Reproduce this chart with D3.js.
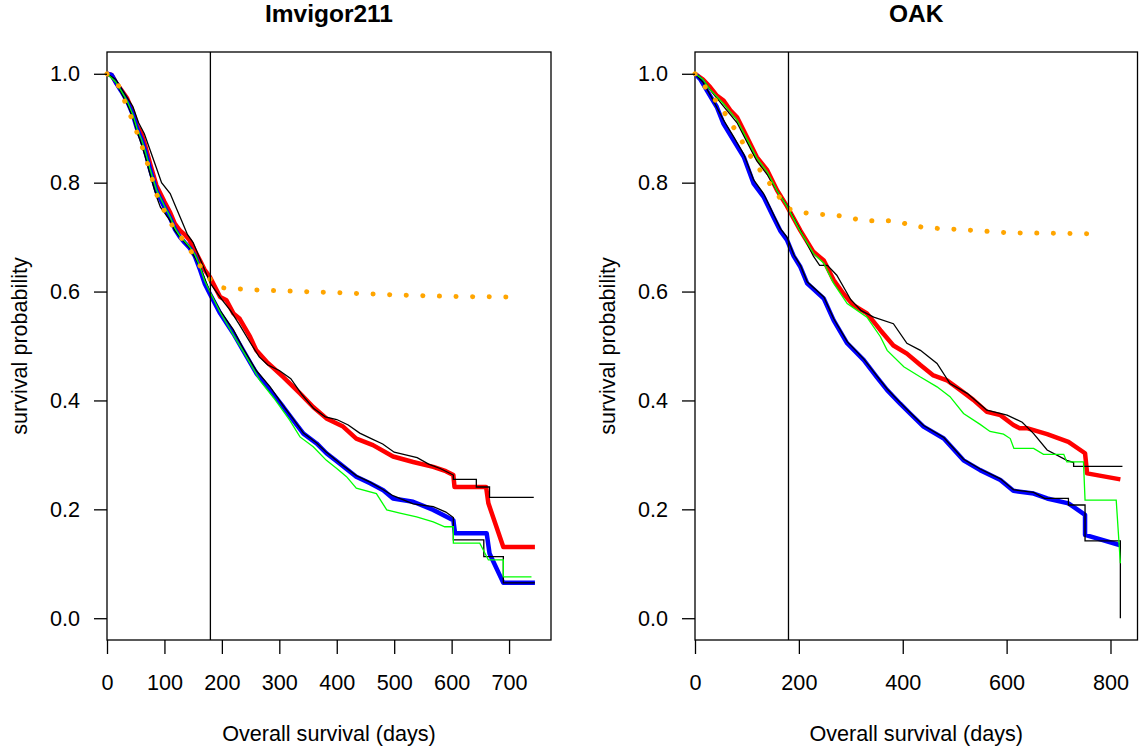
<!DOCTYPE html>
<html>
<head>
<meta charset="utf-8">
<script src="https://cdn.jsdelivr.net/npm/d3@7"></script>
<style>
  body { margin: 0; background: #fff; }
  svg text { font-family: "Liberation Sans", Arial, Helvetica, sans-serif; fill: #000; }
</style>
</head>
<body>
<div id="chart-area"></div>
<script>
// ---- data: [day, survival probability] ----

// Imvigor211
var imRed = [[0,1],[8,0.998],[15,0.985],[25,0.97],[35,0.955],[45,0.93],[52,0.905],[60,0.89],[66,0.87],[75,0.835],[86,0.795],[100,0.765],[110,0.745],[118,0.725],[127,0.712],[135,0.705],[144,0.694],[153,0.675],[162,0.657],[170,0.64],[179,0.627],[197,0.59],[208,0.584],[220,0.56],[231,0.55],[249,0.517],[260,0.492],[278,0.471],[307,0.443],[336,0.413],[359,0.388],[382,0.367],[411,0.352],[434,0.33],[463,0.318],[498,0.297],[533,0.287],[568,0.278],[590,0.27],[603,0.263],[605,0.241],[660,0.241],[664,0.211],[690,0.131],[745,0.131]];
var imBlue = [[0,1],[8,0.998],[15,0.985],[25,0.968],[35,0.95],[45,0.925],[52,0.9],[60,0.88],[66,0.86],[75,0.825],[86,0.785],[100,0.755],[110,0.735],[118,0.715],[127,0.7],[135,0.69],[144,0.68],[153,0.665],[162,0.64],[170,0.615],[179,0.596],[197,0.56],[220,0.523],[237,0.492],[260,0.45],[284,0.419],[307,0.388],[324,0.364],[342,0.339],[365,0.321],[382,0.303],[405,0.284],[434,0.26],[458,0.248],[481,0.235],[498,0.22],[533,0.214],[568,0.199],[603,0.18],[606,0.156],[661,0.156],[666,0.119],[690,0.065],[745,0.065]];
var imGreen = [[0,1],[15,0.985],[25,0.968],[35,0.95],[45,0.925],[52,0.9],[60,0.88],[66,0.86],[75,0.825],[86,0.787],[100,0.757],[110,0.737],[118,0.717],[127,0.702],[144,0.682],[153,0.668],[162,0.645],[170,0.62],[179,0.6],[197,0.562],[220,0.52],[240,0.485],[266,0.437],[290,0.405],[318,0.364],[336,0.333],[359,0.315],[382,0.29],[400,0.275],[417,0.26],[434,0.239],[469,0.229],[487,0.199],[510,0.193],[539,0.186],[568,0.177],[588,0.168],[603,0.168],[603,0.138],[649,0.138],[664,0.107],[690,0.107],[690,0.076],[739,0.076]];
var imKmHigh = [[0,1],[15,0.99],[30,0.965],[45,0.94],[55,0.91],[65,0.89],[75,0.86],[85,0.83],[95,0.8],[110,0.78],[120,0.755],[130,0.73],[140,0.705],[150,0.69],[160,0.665],[170,0.64],[180,0.615],[190,0.6],[200,0.585],[215,0.565],[230,0.54],[250,0.505],[265,0.48],[280,0.465],[300,0.455],[320,0.44],[340,0.41],[360,0.385],[380,0.37],[400,0.365],[420,0.355],[440,0.34],[460,0.33],[480,0.32],[500,0.305],[520,0.3],[540,0.295],[560,0.283],[580,0.275],[603,0.263],[603,0.255],[643,0.255],[643,0.241],[666,0.241],[666,0.222],[743,0.222]];
var imKmLow = [[0,1],[15,0.985],[25,0.965],[35,0.945],[45,0.92],[52,0.895],[60,0.87],[66,0.85],[75,0.815],[86,0.775],[93,0.755],[100,0.745],[110,0.73],[118,0.712],[127,0.7],[144,0.68],[162,0.645],[179,0.6],[197,0.565],[220,0.53],[240,0.49],[260,0.455],[284,0.425],[307,0.39],[324,0.366],[342,0.34],[365,0.322],[382,0.305],[405,0.285],[434,0.262],[458,0.25],[481,0.236],[498,0.225],[533,0.21],[568,0.205],[590,0.195],[603,0.185],[603,0.144],[656,0.144],[656,0.113],[690,0.113],[690,0.065],[745,0.065]];
var imOrange = [[0,1],[20,0.978],[46,0.91],[60,0.87],[75,0.82],[89,0.77],[104,0.74],[117,0.715],[140,0.685],[160,0.65],[180,0.622],[200,0.607],[257,0.603],[314,0.601],[400,0.598],[500,0.594],[600,0.591],[715,0.59]];

// OAK
var oakRed = [[0,1],[15,0.99],[29.5,0.975],[42,0.96],[55,0.951],[68,0.933],[81,0.92],[100,0.884],[119,0.847],[139,0.823],[158,0.786],[177,0.757],[203,0.712],[228,0.673],[248,0.657],[267,0.621],[286,0.596],[305,0.575],[331,0.56],[357,0.529],[382,0.501],[408,0.486],[434,0.465],[459,0.446],[485,0.437],[511,0.419],[536,0.401],[562,0.379],[588,0.373],[613,0.355],[625,0.349],[639,0.349],[678,0.338],[719,0.324],[751,0.303],[755,0.266],[819,0.255]];
var oakBlue = [[0,1],[10,0.99],[23,0.969],[42,0.939],[55,0.908],[74,0.878],[94,0.847],[113,0.798],[132,0.774],[151,0.737],[164,0.712],[177,0.695],[190,0.665],[203,0.645],[216,0.615],[248,0.587],[267,0.547],[293,0.505],[325,0.474],[350,0.443],[370,0.419],[395,0.394],[414,0.376],[440,0.352],[479,0.33],[517,0.29],[549,0.272],[588,0.254],[613,0.234],[652,0.229],[678,0.22],[719,0.211],[751,0.19],[751,0.153],[819,0.134]];
var oakGreen = [[0,1],[15,0.99],[30,0.97],[55,0.945],[68,0.93],[81,0.915],[100,0.88],[119,0.845],[139,0.82],[158,0.785],[177,0.757],[203,0.71],[228,0.67],[248,0.652],[267,0.615],[293,0.578],[331,0.553],[357,0.517],[370,0.492],[402,0.462],[434,0.443],[466,0.425],[491,0.407],[517,0.376],[549,0.356],[568,0.343],[594,0.338],[607,0.33],[614,0.312],[652,0.312],[671,0.301],[710,0.301],[716,0.287],[748,0.287],[751,0.217],[811,0.217],[819,0.101]];
var oakKmHigh = [[0,1],[15,0.99],[30,0.97],[55,0.94],[68,0.925],[81,0.91],[100,0.875],[119,0.84],[139,0.815],[158,0.785],[177,0.758],[203,0.712],[228,0.665],[240,0.648],[255,0.648],[273,0.63],[300,0.585],[320,0.565],[344,0.553],[382,0.541],[408,0.505],[434,0.492],[466,0.468],[491,0.431],[524,0.413],[562,0.382],[601,0.373],[630,0.36],[652,0.339],[678,0.309],[716,0.29],[729,0.286],[729,0.279],[823,0.279]];
var oakKmLow = [[0,1],[15,0.985],[30,0.96],[55,0.915],[74,0.885],[94,0.852],[113,0.805],[132,0.78],[151,0.742],[164,0.716],[177,0.7],[190,0.668],[203,0.648],[216,0.618],[248,0.59],[267,0.55],[293,0.508],[325,0.476],[350,0.445],[370,0.421],[395,0.396],[414,0.378],[440,0.354],[479,0.332],[517,0.292],[549,0.274],[588,0.256],[613,0.236],[652,0.231],[673,0.22],[719,0.22],[719,0.208],[751,0.208],[751,0.142],[819,0.142],[819,0]];
var oakOrange = [[0,1],[20,0.975],[52,0.936],[82,0.89],[111,0.842],[142,0.801],[174,0.758],[180,0.752],[203,0.746],[231,0.742],[264,0.741],[293,0.737],[323,0.73],[387,0.73],[414,0.722],[446,0.717],[511,0.714],[543,0.712],[604,0.708],[771,0.706]];

var yTicks = [0, 0.2, 0.4, 0.6, 0.8, 1.0];
var imXTicks = [0, 100, 200, 300, 400, 500, 600, 700];
var oakXTicks = [0, 200, 400, 600, 800];
var landmark = 180;

var svg = d3.select("#chart-area")
    .append("svg")
    .attr("width", 1139)
    .attr("height", 749);

var plotTop = 52, plotBottom = 640;

var y = d3.scaleLinear()
    .domain([-0.04, 1.04])
    .range([plotBottom, plotTop]);

function drawPanel(p) {
    var x = d3.scaleLinear()
        .domain([0, p.xmax])
        .range([p.left, p.right]);

    var g = svg.append("g");

    var line = d3.line()
        .x(function(d) { return x(d[0]); })
        .y(function(d) { return y(d[1]); });

    // box
    g.append("rect")
        .attr("x", p.left).attr("y", plotTop)
        .attr("width", p.right - p.left).attr("height", plotBottom - plotTop)
        .attr("fill", "none").attr("stroke", "#000").attr("stroke-width", 1.3);

    // curves
    g.append("path").attr("d", line(p.red))
        .attr("fill", "none").attr("stroke", "#ff0000").attr("stroke-width", 4.5)
        .attr("stroke-linejoin", "round");
    g.append("path").attr("d", line(p.blue))
        .attr("fill", "none").attr("stroke", "#0000ff").attr("stroke-width", 4.5)
        .attr("stroke-linejoin", "round");
    [p.kmHigh, p.kmLow].forEach(function(s) {
        g.append("path").attr("d", line(s))
            .attr("fill", "none").attr("stroke", "#000").attr("stroke-width", 1.3);
    });
    g.append("path").attr("d", line(p.green))
        .attr("fill", "none").attr("stroke", "#00ff00").attr("stroke-width", 1.3);
    g.append("path").attr("d", line(p.orange))
        .attr("fill", "none").attr("stroke", "#ffa500").attr("stroke-width", 5)
        .attr("stroke-linecap", "round").attr("stroke-dasharray", "0.1,16.5");

    // landmark line
    g.append("line")
        .attr("x1", x(landmark)).attr("x2", x(landmark))
        .attr("y1", plotTop).attr("y2", plotBottom)
        .attr("stroke", "#000").attr("stroke-width", 1.3);

    // axes
    var xAxis = d3.axisBottom(x).tickValues(p.xTicks).tickSize(14).tickPadding(20)
        .tickFormat(d3.format("d"));
    var gx = g.append("g").attr("transform", "translate(0," + plotBottom + ")").call(xAxis);
    var yAxis = d3.axisLeft(y).tickValues(yTicks).tickSize(13).tickPadding(14)
        .tickFormat(d3.format(".1f"));
    var gy = g.append("g").attr("transform", "translate(" + p.left + ",0)").call(yAxis);
    [gx, gy].forEach(function(a) {
        a.select(".domain").remove();
        a.selectAll("line").attr("stroke", "#000").attr("stroke-width", 1.3);
        a.selectAll("text").attr("font-size", "21.6px").attr("fill", "#000")
            .style("font-family", "'Liberation Sans', Arial, sans-serif");
    });
    gx.selectAll("text").attr("y", 50).attr("dy", 0);

    // titles
    g.append("text")
        .attr("x", (p.left + p.right) / 2).attr("y", 22)
        .attr("text-anchor", "middle")
        .attr("font-size", "24.5px").attr("font-weight", "bold")
        .text(p.title);
    g.append("text")
        .attr("x", (p.left + p.right) / 2).attr("y", 741)
        .attr("text-anchor", "middle")
        .attr("font-size", "21.6px")
        .text("Overall survival (days)");
    g.append("text")
        .attr("transform", "translate(" + (p.left - 80) + "," + ((plotTop + plotBottom) / 2) + ") rotate(-90)")
        .attr("text-anchor", "middle")
        .attr("font-size", "21.6px")
        .text("survival probability");
}

drawPanel({
    title: "Imvigor211", left: 107, right: 551, xmax: 773, xTicks: imXTicks,
    red: imRed, blue: imBlue, green: imGreen, kmHigh: imKmHigh, kmLow: imKmLow, orange: imOrange
});
drawPanel({
    title: "OAK", left: 695, right: 1137.5, xmax: 852, xTicks: oakXTicks,
    red: oakRed, blue: oakBlue, green: oakGreen, kmHigh: oakKmHigh, kmLow: oakKmLow, orange: oakOrange
});
</script>
</body>
</html>
